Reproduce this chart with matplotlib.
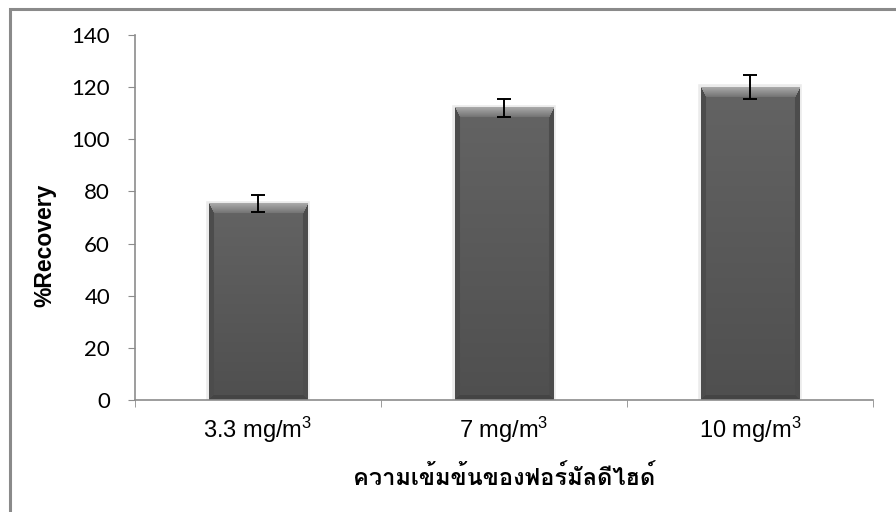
import numpy as np
import matplotlib
matplotlib.use("Agg")
import matplotlib.pyplot as plt
from matplotlib import font_manager
from matplotlib.ft2font import FT2Font
from matplotlib.patches import Rectangle

# ข้อมูล
categories = ["3.3 mg/m$^3$", "7 mg/m$^3$", "10 mg/m$^3$"]
recovery = [75.3, 112.0, 120.0]
recovery_sd = [3.3, 3.3, 4.5]
y_ticks = [0, 20, 40, 60, 80, 100, 120, 140]
x_title = "ความเข้มข้นของฟอร์มัลดีไฮด์"
y_title = "%Recovery"


def thai_family():
    # หาฟอนต์ที่มีอักษรไทย
    for f in font_manager.fontManager.ttflist:
        try:
            if 0x0E04 in FT2Font(f.fname).get_charmap():
                return f.name
        except Exception:
            pass
    return "DejaVu Sans"


def bar_shade(w, h):
    # ไล่สีแท่งแบบนูน
    rows = np.linspace(0, 1, h)[:, None]
    img = np.repeat(0.39 - 0.08 * rows, w, axis=1)
    s, t, b = 5, 10, 5
    r = np.arange(h)[:, None]
    c = np.arange(w)[None, :]
    side = (c < s) | (c >= w - s)
    img = np.where(side, 0.30, img)
    top = (r < t) & (c >= r * s / t) & (c < w - r * s / t)
    img = np.where(top, 0.66 - 0.22 * r / t, img)
    bottom = (r >= h - b) & (c >= (h - 1 - r) * s / b) & (c < w - (h - 1 - r) * s / b)
    img = np.where(bottom, 0.27, img)
    return np.dstack([img, img, img])


plt.rcParams["mathtext.fontset"] = "custom"
plt.rcParams["mathtext.rm"] = "Liberation Sans"
plt.rcParams["mathtext.it"] = "Liberation Sans"

fig = plt.figure(figsize=(8.96, 5.12), dpi=100)
ax = fig.add_axes([0.1507, 0.2188, 0.8237, 0.7129])

x = np.arange(len(categories))
ax.set_xlim(-0.5, len(categories) - 0.5)
ax.set_ylim(0, 140)

# เงาจาง ๆ รอบแท่ง
ax.bar(x, recovery, width=0.4, color="none", edgecolor="#ebebeb", linewidth=4, zorder=1)
bars = ax.bar(x, recovery, width=0.4, color="#5c5c5c", zorder=2)
for bar in bars:
    x0, y0 = ax.transData.transform((bar.get_x(), 0))
    x1, y1 = ax.transData.transform((bar.get_x() + bar.get_width(), bar.get_height()))
    img = bar_shade(int(round(x1 - x0)), int(round(y1 - y0)))
    ax.imshow(img, extent=(bar.get_x(), bar.get_x() + bar.get_width(), 0, bar.get_height()),
              aspect="auto", interpolation="bilinear", zorder=2.1)

ax.errorbar(x, recovery, yerr=recovery_sd, fmt="none", ecolor="black",
            elinewidth=1.4, capsize=4.8, capthick=1.4, zorder=3)

ax.set_xlim(-0.5, len(categories) - 0.5)
ax.set_ylim(0, 140)

# แกน
for side in ["top", "right"]:
    ax.spines[side].set_visible(False)
for side in ["left", "bottom"]:
    ax.spines[side].set_color("#8c8c8c")
    ax.spines[side].set_linewidth(1.2)

ax.set_yticks(y_ticks)
ax.set_yticklabels([str(v) for v in y_ticks], family="Lato", fontsize=16)
ax.tick_params(axis="y", direction="out", length=5, color="#8c8c8c", pad=13)

ax.set_xticks(x)
ax.set_xticklabels(categories, family="Liberation Sans", fontsize=17)
ax.set_xticks(np.arange(-0.5, len(categories)), minor=True)
ax.tick_params(axis="x", which="major", length=0, pad=11)
ax.tick_params(axis="x", which="minor", direction="out", length=5, color="#8c8c8c")

ax.set_ylabel(y_title, family="Liberation Sans", fontweight="bold", fontsize=16.5)
ax.yaxis.set_label_coords(-0.107, 0.425)
fig.text(0.5625, 0.068, x_title, family=[thai_family(), "DejaVu Sans"],
         fontsize=17, fontweight="bold", ha="center", va="center")

# กรอบรอบกราฟ
fig.patches.append(Rectangle((10 / 896, -0.1), 1.2, 1.1 - 9 / 512, transform=fig.transFigure,
                             fill=False, edgecolor="#8a8a8a", linewidth=2.2))

fig.savefig("out.png", dpi=100)
